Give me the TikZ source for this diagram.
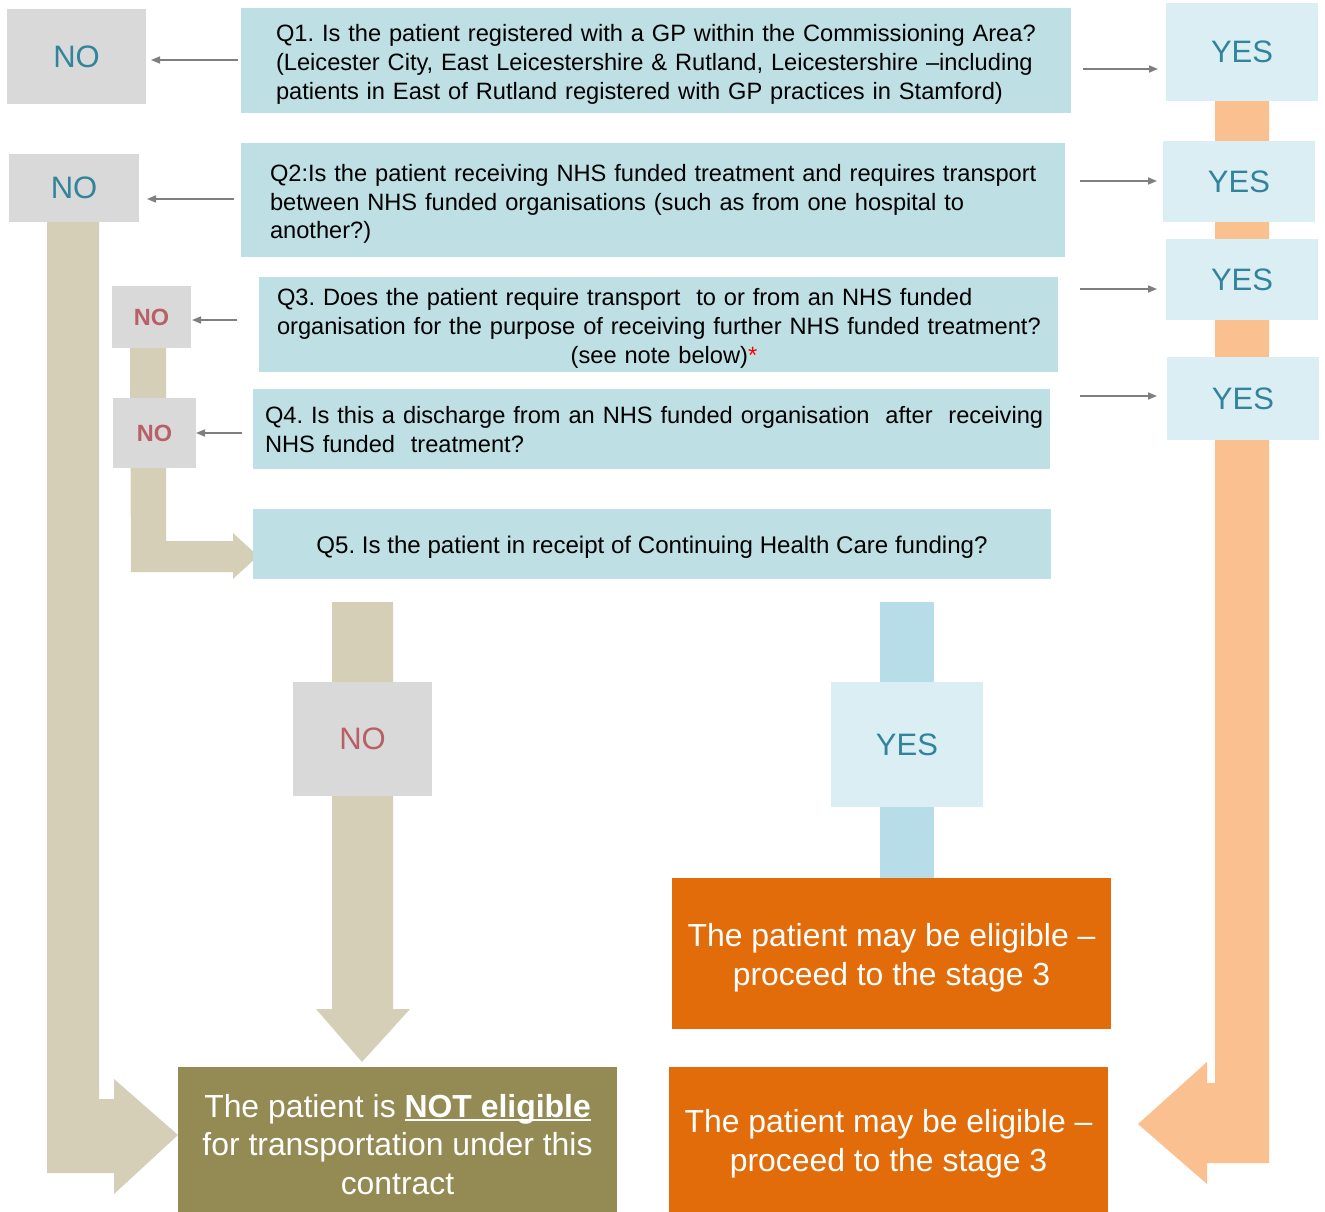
\documentclass[tikz,border=0pt]{standalone}
\usepackage{fontspec}
\setmainfont{Liberation Sans}
\usetikzlibrary{arrows.meta}
\definecolor{qbox}{HTML}{BEDFE3}
\definecolor{yesbox}{HTML}{DAEEF3}
\definecolor{nobox}{HTML}{D9D9D9}
\definecolor{tealtxt}{HTML}{31849B}
\definecolor{redtxt}{HTML}{B95F67}
\definecolor{tanc}{HTML}{D5CFB8}
\definecolor{peach}{HTML}{FAC090}
\definecolor{lblue}{HTML}{B7DDE8}
\definecolor{orng}{HTML}{E36C0A}
\definecolor{olivec}{HTML}{948A54}
\definecolor{agray}{HTML}{7F7F7F}
\newcommand\ulbox[1]{\setbox0=\hbox{#1}\rlap{\rule[-3.5pt]{\wd0}{2pt}}\box0}
\frenchspacing
\begin{document}
\frenchspacing
\begin{tikzpicture}[x=1pt,y=-1pt,
  box/.style={rectangle, inner sep=0pt, outer sep=0pt, fill=#1},
  sz/.style 2 args={minimum width=#1pt, minimum height=#2pt},
  th/.style={text height=#1pt, text depth=0pt},
  thd/.style 2 args={text height=#1pt, text depth=#2pt},
  qnode/.style={box=qbox, text=black, font=\fontsize{23.65}{28.8}\selectfont},
  qleft/.style={qnode, align=left, text width=#1pt},
  nonode/.style={box=nobox, text=tealtxt, font=\fontsize{31}{36}\selectfont},
  nosmall/.style={box=nobox, text=redtxt, font=\fontsize{23.5}{28}\selectfont\bfseries},
  nomid/.style={box=nobox, text=redtxt, font=\fontsize{31}{36}\selectfont},
  yesnode/.style={box=yesbox, text=tealtxt, font=\fontsize{31}{36}\selectfont},
  outnode/.style={box=#1, text=white, align=center, font=\fontsize{31.9}{38.5}\selectfont},
  garrow/.style={draw=agray, line width=1.6pt, -{Triangle[length=9pt,width=7pt]}}
]
\useasboundingbox (0,0) rectangle (1325,1212);
\fill[white] (0,0) rectangle (1325,1212);

% block arrows (drawn first, behind the boxes)
\fill[peach] (1215,101) -- (1269,101) -- (1269,1163) -- (1207,1163) -- (1207,1184)
  -- (1138,1124) -- (1207,1062) -- (1207,1083) -- (1215,1083) -- cycle;
\fill[tanc] (47,222) -- (99,222) -- (99,1099) -- (114,1099) -- (114,1079) -- (178,1135)
  -- (114,1194) -- (114,1173) -- (47,1173) -- cycle;
\fill[tanc] (130,348) -- (166,348) -- (166,541) -- (233,541) -- (233,533) -- (258,556)
  -- (233,579) -- (233,572) -- (131,572) -- cycle;
\fill[tanc] (332,602) -- (393,602) -- (393,1009) -- (410,1009) -- (362,1062) -- (316,1009)
  -- (332,1009) -- cycle;
\fill[lblue] (880,602) rectangle (934,878);

% questions
\node[qleft=760, thd={18}{55.3}, sz={830}{105}] (Q1) at (656,60.5) {%
\mbox{Q1. Is the patient registered with a GP within the Commissioning Area?}\\
\mbox{(Leicester City, East Leicestershire \& Rutland, Leicestershire –including}\\
\mbox{patients in East of Rutland registered with GP practices in Stamford)}};
\node[qleft=766, thd={18}{55.3}, sz={824}{114}] (Q2) at (653,200) {%
\mbox{Q2:Is the patient receiving NHS funded treatment and requires transport}\\
\mbox{between NHS funded organisations (such as from one hospital to}\\
\mbox{another?)}};
\node[qleft=763, thd={18}{55.3}, sz={799}{95}] (Q3) at (658.5,324.5) {%
\mbox{Q3. Does the patient require transport\ \ to or from an NHS funded}\\
\mbox{organisation for the purpose of receiving further NHS funded treatment?}\\
\makebox[763pt][c]{\hspace*{11pt}(see note below)\textcolor{red}{*}}};
\node[qleft=773, thd={18}{27.5}, sz={797}{80}] (Q4) at (651.5,428.5) {%
\mbox{Q4. Is this a discharge from an NHS funded organisation\ \ after\ \ receiving}\\
\mbox{NHS funded\ \ treatment?}};
\node[qnode, th=18.5, sz={798}{70}, font=\fontsize{24.1}{28.8}\selectfont] (Q5) at (652,544) {Q5. Is the patient in receipt of Continuing Health Care funding?};

% NO boxes
\node[nonode, sz={139}{95}] (N1) at (76.5,56.5) {NO};
\node[nonode, sz={130}{68}] (N2) at (74,188) {NO};
\node[nosmall, sz={79}{62}] (N3) at (151.5,317) {NO};
\node[nosmall, sz={83}{70}] (N4) at (154.5,433) {NO};
\node[nomid, sz={139}{114}] (N5) at (362.5,739) {NO};

% YES boxes
\node[yesnode, sz={152}{98}] (Y1) at (1242,52) {YES};
\node[yesnode, sz={152}{81}] (Y2) at (1239,181.5) {YES};
\node[yesnode, sz={152}{81}] (Y3) at (1242,279.5) {YES};
\node[yesnode, sz={152}{83}] (Y4) at (1243,398.5) {YES};
\node[yesnode, sz={152}{125}] (Y5) at (907,744.5) {YES};

% outcomes
\node[outnode=orng, th=63, sz={439}{151}] (E1) at (891.5,953.5) {The patient may be eligible –\\proceed to the stage 3};
\node[outnode=orng, th=63, sz={439}{145}] (E2) at (888.5,1139.5) {The patient may be eligible –\\proceed to the stage 3};
\node[outnode=olivec, th=109, sz={439}{145}] (NE) at (397.5,1139.5) {The patient is \ulbox{\textbf{NOT eligible}}\\for transportation under this\\contract};

% thin arrows
\draw[garrow] ([xshift=-3pt]Q1.west |- 0,60) -- ([xshift=5pt]N1.east |- 0,60);
\draw[garrow] ([xshift=-7pt]Q2.west |- 0,199) -- ([xshift=8pt]N2.east |- 0,199);
\draw[garrow] ([xshift=-22pt]Q3.west |- 0,320) -- ([xshift=1pt]N3.east |- 0,320);
\draw[garrow] ([xshift=-11pt]Q4.west |- 0,433) -- ([xshift=0pt]N4.east |- 0,433);
\draw[garrow] ([xshift=12pt]Q1.east |- 0,69) -- ([xshift=-8pt]Y1.west |- 0,69);
\draw[garrow] ([xshift=15pt]Q2.east |- 0,181) -- ([xshift=-6pt]Y2.west |- 0,181);
\draw[garrow] ([xshift=22pt]Q3.east |- 0,289) -- ([xshift=-9pt]Y3.west |- 0,289);
\draw[garrow] ([xshift=30pt]Q4.east |- 0,396) -- ([xshift=-10pt]Y4.west |- 0,396);
\end{tikzpicture}
\end{document}
